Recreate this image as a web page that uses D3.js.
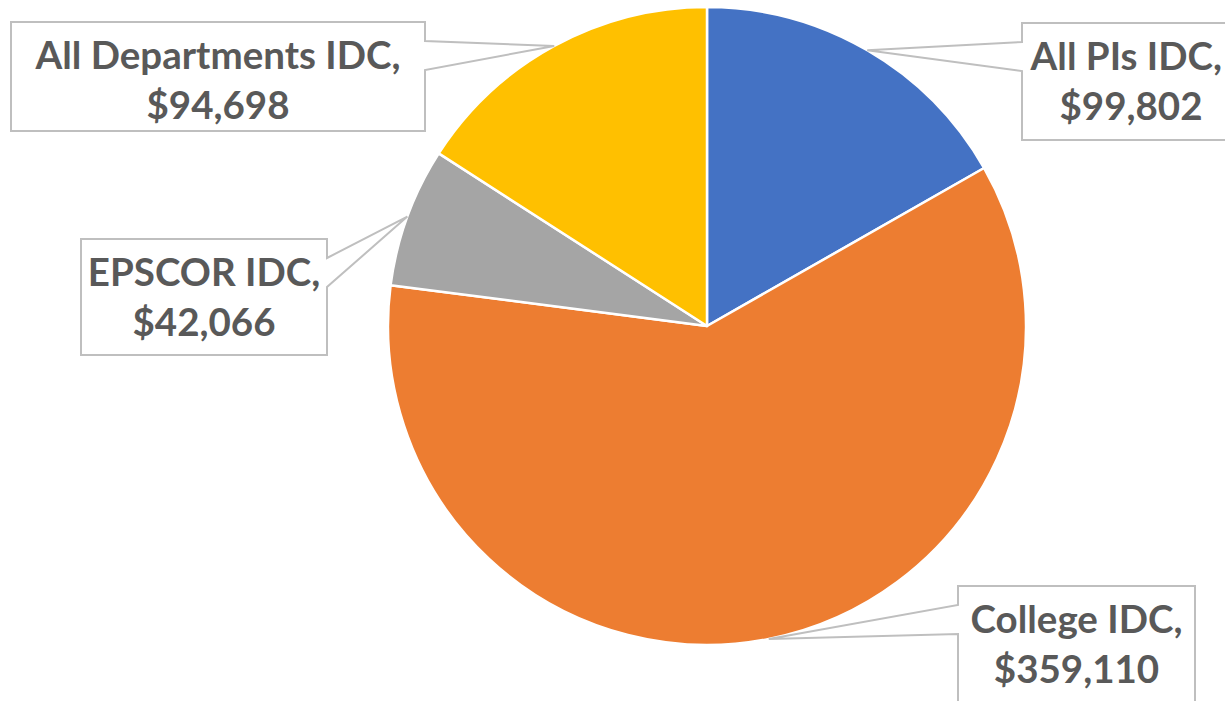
<!DOCTYPE html>
<html>
<head>
<meta charset="utf-8">
<script src="https://cdn.jsdelivr.net/npm/d3@7/dist/d3.min.js"></script>
<style>
  html, body { margin: 0; padding: 0; background: #ffffff; }
  svg { display: block; }
</style>
</head>
<body>
<svg id="chart" width="1225" height="701"></svg>
<script>
// ---- data ----
const categories = ["All PIs IDC", "College IDC", "EPSCOR IDC", "All Departments IDC"];
const values = [99802, 359110, 42066, 94698];
const colors = ["#4472C4", "#ED7D31", "#A5A5A5", "#FFC000"];

// ---- layout (label callout boxes: x0, y0, x1, y1, pointer side) ----
const labelBoxes = [
  { x0: 1022, y0: 23, x1: 1240, y1: 140, side: "left" },
  { x0: 958, y0: 586, x1: 1195, y1: 703, side: "left" },
  { x0: 81, y0: 239, x1: 327, y1: 355, side: "right" },
  { x0: 11, y0: 22, x1: 425, y1: 131, side: "right" }
];

const W = 1225, H = 701;
const cx = 707, cy = 326, R = 319;
const fmt = d3.format("$,");

const svg = d3.select("#chart");
const g = svg.append("g").attr("transform", `translate(${cx},${cy})`);

const pie = d3.pie().sort(null).value(d => d);
const arcs = pie(values);
const arc = d3.arc().innerRadius(0).outerRadius(R);

g.selectAll("path.slice")
  .data(arcs)
  .enter().append("path")
  .attr("class", "slice")
  .attr("d", arc)
  .attr("fill", (d, i) => colors[i])
  .attr("stroke", "#ffffff")
  .attr("stroke-width", 2.5)
  .attr("stroke-linejoin", "round");

// ---- callouts ----
const labels = svg.append("g");
arcs.forEach((a, i) => {
  const b = labelBoxes[i];
  const mid = (a.startAngle + a.endAngle) / 2;
  const tx = cx + R * Math.sin(mid);
  const ty = cy - R * Math.cos(mid);
  const b0 = b.y0 + 19, b1 = b.y0 + 48;
  let p;
  if (b.side === "right") {
    p = `M${b.x0},${b.y0} L${b.x1},${b.y0} L${b.x1},${b0} L${tx},${ty} L${b.x1},${b1} L${b.x1},${b.y1} L${b.x0},${b.y1} Z`;
  } else {
    p = `M${b.x0},${b.y0} L${b.x1},${b.y0} L${b.x1},${b.y1} L${b.x0},${b.y1} L${b.x0},${b1} L${tx},${ty} L${b.x0},${b0} Z`;
  }
  labels.append("path")
    .attr("d", p)
    .attr("fill", "#ffffff")
    .attr("stroke", "#BFBFBF")
    .attr("stroke-width", 2)
    .attr("stroke-linejoin", "miter");

  const xc = (b.x0 + b.x1) / 2;
  const t = labels.append("text")
    .attr("text-anchor", "middle")
    .attr("font-family", "Lato, 'Open Sans', sans-serif")
    .attr("font-weight", 700)
    .attr("font-size", 38.5)
    .attr("fill", "#595959");
  const l1 = t.append("tspan").attr("x", xc).attr("y", b.y0 + 47).text(categories[i] + ",");
  const l2 = t.append("tspan").attr("x", xc).attr("y", b.y0 + 97).text(fmt(values[i]));
  // keep text inside the visible canvas
  [l1, l2].forEach(s => {
    const w = s.node().getComputedTextLength();
    if (xc + w / 2 > W - 3) s.attr("x", W - 3 - w / 2);
  });
});
</script>
</body>
</html>
